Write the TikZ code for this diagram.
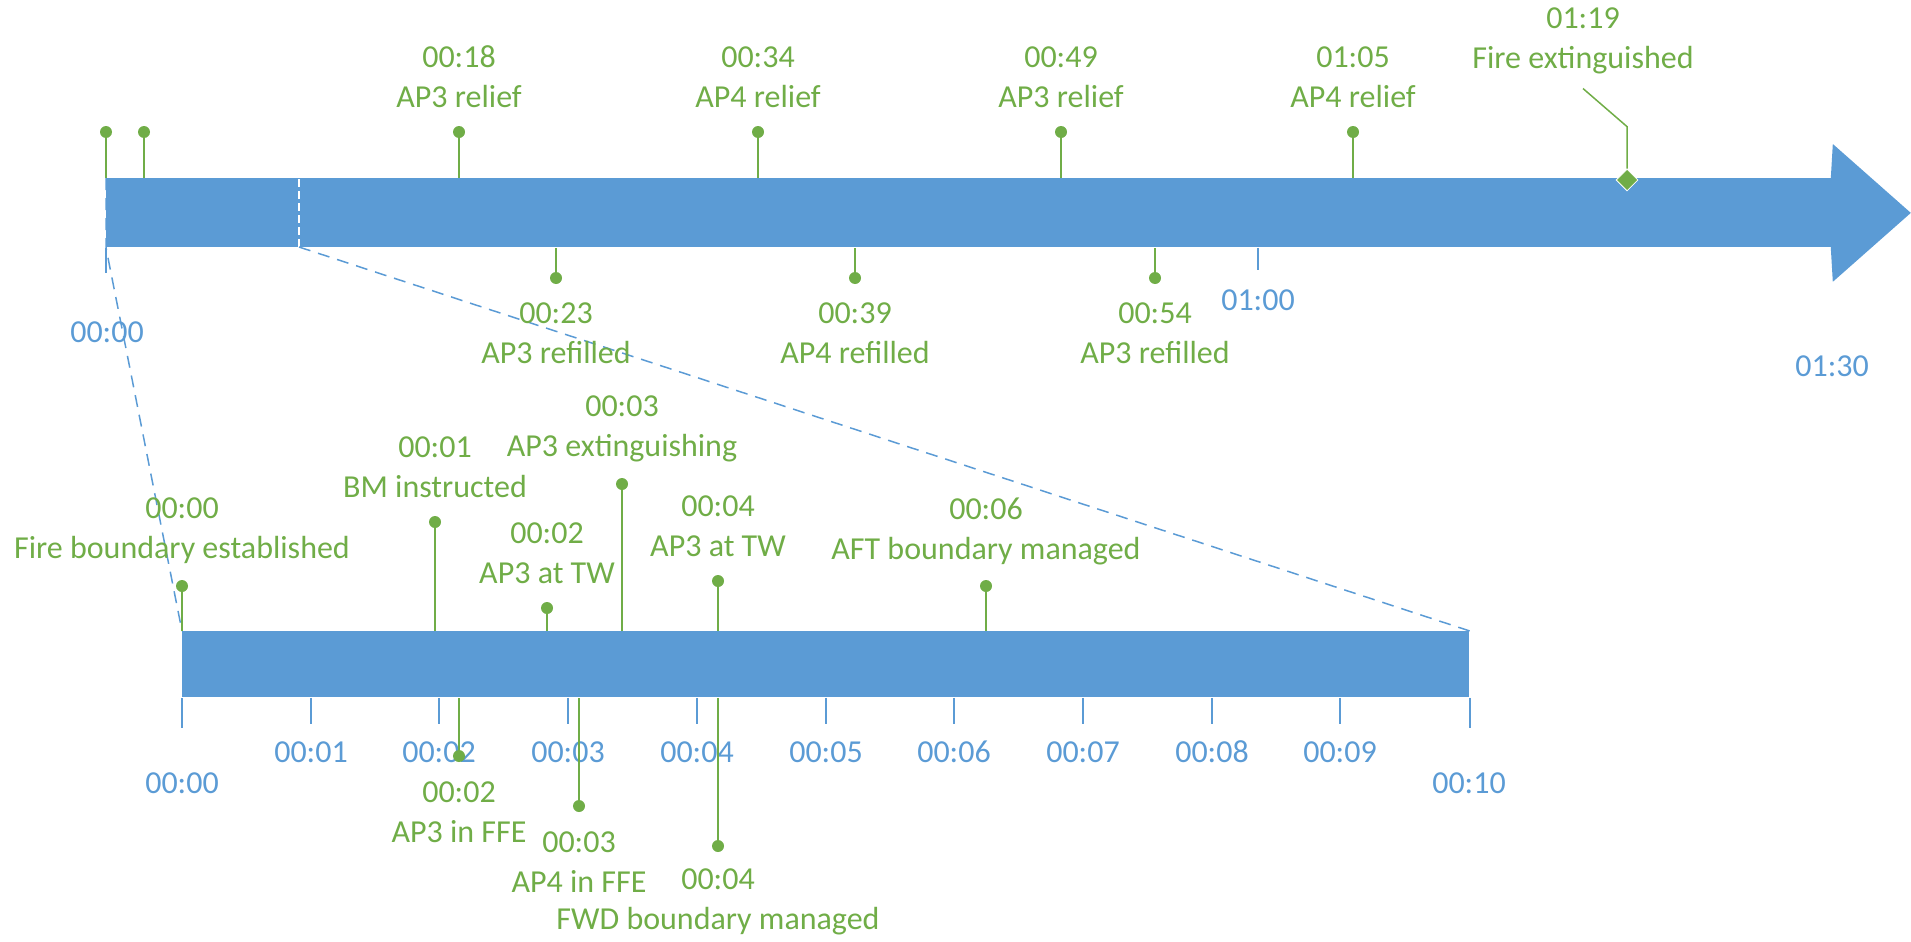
\documentclass[tikz,border=0pt]{standalone}
\usepackage{fontspec}
\setmainfont{Carlito}
\usepackage{xcolor}
\usepackage{tikz}
\usetikzlibrary{shapes.geometric, positioning}

\definecolor{tlblue}{HTML}{5B9BD5}
\definecolor{tlgreen}{HTML}{70AD47}

\begin{document}
\begin{tikzpicture}[
  x=0.5pt, y=-0.5pt,
  font=\fontsize{16}{20}\selectfont,
  bar/.style={rectangle, fill=tlblue, draw=none, inner sep=0pt, anchor=north west},
  dot/.style={circle, fill=tlgreen, inner sep=0pt, minimum size=6pt},
  milestone/.style={diamond, fill=tlgreen, draw=white, line width=0.4pt,
              inner sep=0pt, minimum size=11pt},
  stem/.style={draw=tlgreen, line width=0.75pt},
  event/.style={text=tlgreen, align=center, inner sep=0pt},
  axislbl/.style={text=tlblue, inner sep=0pt},
  tick/.style={draw=tlblue, line width=0.75pt},
  zoomline/.style={draw=tlblue, line width=0.75pt, dash pattern=on 6pt off 4pt}
]
\useasboundingbox (0,0) rectangle (1911,942);

% overall timeline
\node[bar, minimum width=863pt, minimum height=34.5pt] (main) at (106,178) {};
\fill[tlblue] ([xshift=-1pt]main.north east) -- ([yshift=17pt]main.north east)
  -- ([xshift=39pt]main.east) -- ([yshift=-17pt]main.south east)
  -- ([xshift=-1pt]main.south east) -- cycle;
\coordinate (cut) at (299,247);
\draw[white, line width=0.75pt, dash pattern=on 4pt off 2pt] (cut) -- (299,178);

% first ten minutes
\node[bar, minimum width=643.5pt, minimum height=33pt] (detail) at (182,631) {};

\draw[zoomline] (main.north west) -- (main.south west) -- (detail.north west);
\draw[zoomline] (cut) -- (detail.north east);

% axis of the overall timeline
\node[axislbl] (a00) at (107,332) {00:00};
\node[axislbl] (a60) at (1258,300) {01:00};
\node[axislbl] (a90) at (1832,366) {01:30};
\draw[tick] (main.south west) -- ++(0,25);
\draw[tick] (a60 |- main.south) -- ++(0,22);

% axis of the first ten minutes
\node[axislbl] (b00) at (182,783) {00:00};
\node[axislbl] (b01) at (311,752) {00:01};
\node[axislbl] (b02) at (439,752) {00:02};
\node[axislbl] (b03) at (568,752) {00:03};
\node[axislbl] (b04) at (697,752) {00:04};
\node[axislbl] (b05) at (826,752) {00:05};
\node[axislbl] (b06) at (954,752) {00:06};
\node[axislbl] (b07) at (1083,752) {00:07};
\node[axislbl] (b08) at (1212,752) {00:08};
\node[axislbl] (b09) at (1340,752) {00:09};
\node[axislbl] (b10) at (1469,783) {00:10};
\draw[tick] (detail.south west) -- ++(0,30);
\draw[tick] (b01 |- detail.south) -- ++(0,26);
\draw[tick] (b02 |- detail.south) -- ++(0,26);
\draw[tick] (b03 |- detail.south) -- ++(0,26);
\draw[tick] (b04 |- detail.south) -- ++(0,26);
\draw[tick] (b05 |- detail.south) -- ++(0,26);
\draw[tick] (b06 |- detail.south) -- ++(0,26);
\draw[tick] (b07 |- detail.south) -- ++(0,26);
\draw[tick] (b08 |- detail.south) -- ++(0,26);
\draw[tick] (b09 |- detail.south) -- ++(0,26);
\draw[tick] (detail.south east) -- ++(0,30);

% events on the overall timeline
\node[dot] (p00) at (106,132) {};
\node[dot] (p02) at (144,132) {};
\node[dot] (p18) at (459,132) {};
\node[dot] (p34) at (758,132) {};
\node[dot] (p49) at (1061,132) {};
\node[dot] (p65) at (1353,132) {};
\node[dot] (p23) at (556,278) {};
\node[dot] (p39) at (855,278) {};
\node[dot] (p54) at (1155,278) {};
\node[milestone] (p79) at (1627,180) {};

\node[event] (e18) at ([yshift=27.5pt]p18) {00:18\\AP3 relief};
\node[event] (e34) at ([yshift=27.5pt]p34) {00:34\\AP4 relief};
\node[event] (e49) at ([yshift=27.5pt]p49) {00:49\\AP3 relief};
\node[event] (e65) at ([yshift=27.5pt]p65) {01:05\\AP4 relief};
\node[event] (e23) at ([yshift=-27.5pt]p23) {00:23\\AP3 refilled};
\node[event] (e39) at ([yshift=-27.5pt]p39) {00:39\\AP4 refilled};
\node[event] (e54) at ([yshift=-27.5pt]p54) {00:54\\AP3 refilled};
\node[event] (e79) at (1583,41) {01:19\\Fire extinguished};

\draw[stem] (p00) -- (p00 |- main.north);
\draw[stem] (p02) -- (p02 |- main.north);
\draw[stem] (p18) -- (p18 |- main.north);
\draw[stem] (p34) -- (p34 |- main.north);
\draw[stem] (p49) -- (p49 |- main.north);
\draw[stem] (p65) -- (p65 |- main.north);
\draw[stem] (p23) -- (p23 |- main.south);
\draw[stem] (p39) -- (p39 |- main.south);
\draw[stem] (p54) -- (p54 |- main.south);
\draw[stem] (p79.north) -- ++(0,-42) -- ([yshift=-7pt]e79.south);

% events in the first ten minutes
\node[dot] (q00) at (182,586) {};
\node[dot] (q01) at (435,522) {};
\node[dot] (q02) at (547,608) {};
\node[dot] (q03) at (622,484) {};
\node[dot] (q04) at (718,581) {};
\node[dot] (q06) at (986,586) {};
\node[dot] (r02) at (459,756) {};
\node[dot] (r03) at (579,806) {};
\node[dot] (r04) at (718,846) {};

\node[event] (f00) at ([yshift=27.5pt]q00) {00:00\\Fire boundary established};
\node[event] (f01) at ([yshift=27.5pt]q01) {00:01\\BM instructed};
\node[event] (f02) at ([yshift=27.5pt]q02) {00:02\\AP3 at TW};
\node[event] (f03) at ([yshift=27.5pt]q03) {00:03\\AP3 extinguishing};
\node[event] (f04) at ([yshift=27.5pt]q04) {00:04\\AP3 at TW};
\node[event] (f06) at ([yshift=27.5pt]q06) {00:06\\AFT boundary managed};
\node[event] (g02) at ([yshift=-28pt]r02) {00:02\\AP3 in FFE};
\node[event] (g03) at ([yshift=-28pt]r03) {00:03\\AP4 in FFE};
\node[event] (g04) at ([yshift=-28pt]r04) {00:04\\FWD boundary managed};

\draw[stem] (q00) -- (q00 |- detail.north);
\draw[stem] (q01) -- (q01 |- detail.north);
\draw[stem] (q02) -- (q02 |- detail.north);
\draw[stem] (q03) -- (q03 |- detail.north);
\draw[stem] (q04) -- (q04 |- detail.north);
\draw[stem] (q06) -- (q06 |- detail.north);
\draw[stem] (r02) -- (r02 |- detail.south);
\draw[stem] (r03) -- (r03 |- detail.south);
\draw[stem] (r04) -- (r04 |- detail.south);

\end{tikzpicture}
\end{document}
